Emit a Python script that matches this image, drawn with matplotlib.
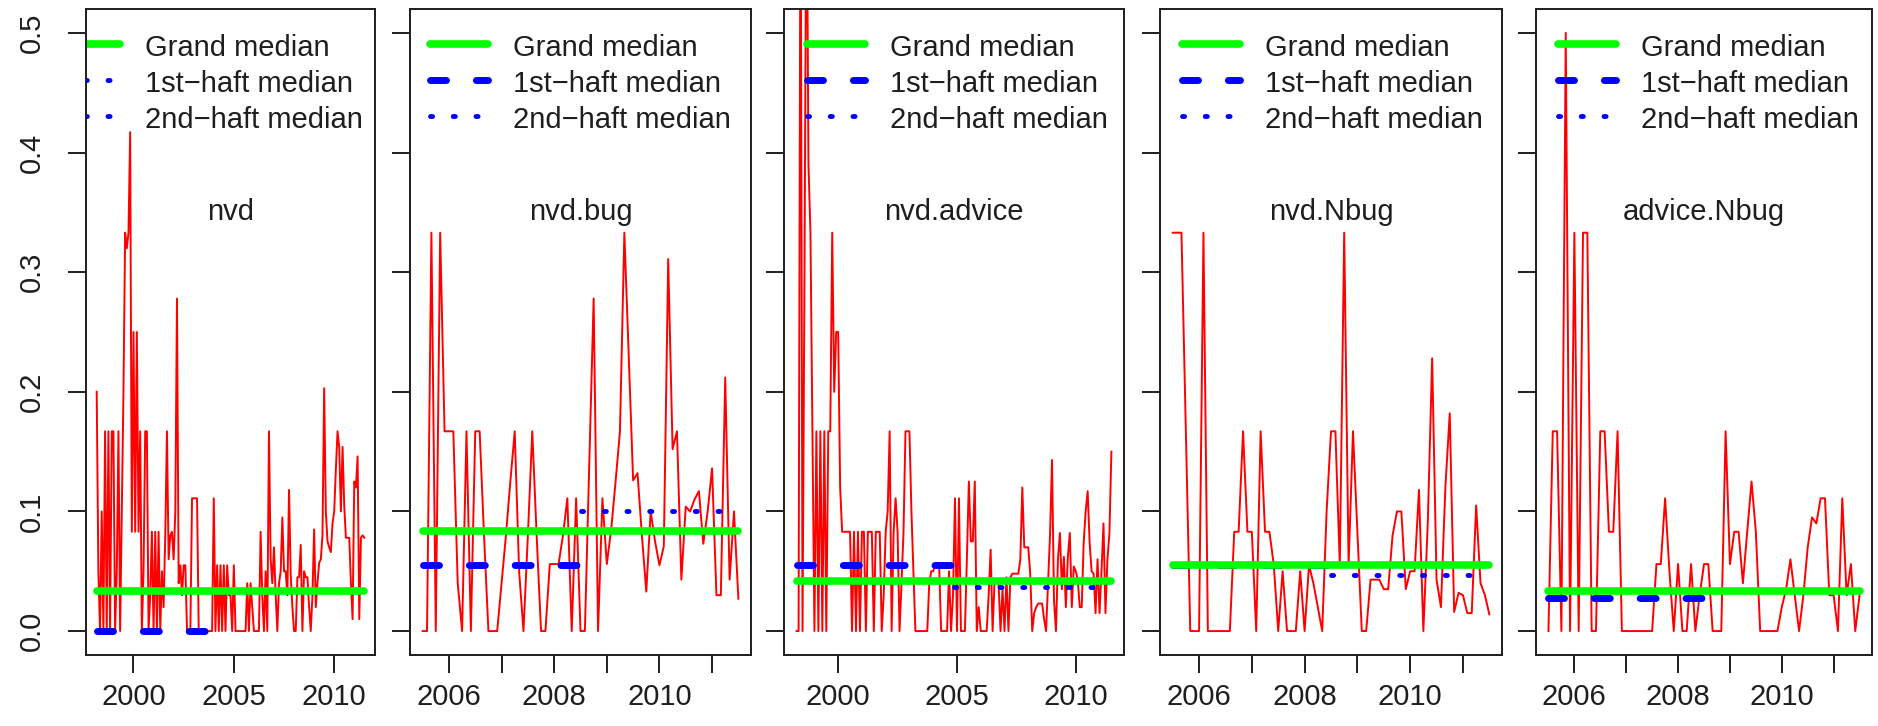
import numpy as np
import matplotlib
matplotlib.use('Agg')
import matplotlib.pyplot as plt

plt.rcParams['font.family'] = ['Liberation Sans', 'DejaVu Sans']
plt.rcParams['font.size'] = 21

# monthly ratios, one list per source pair
nvd = [.2, .05, 0, .1, 0, .167, 0, .167, 0, .167,
       .167, 0, .05, .167, 0, .1, .2, .333, .32, .333,
       .417, .083, .25, .083, .25, .083, .167, 0, .05, .167,
       .167, 0, .03, .083, 0, .083, 0, .083, 0, .05,
       .02, .08, .167, .06, .08, .083, .06, .1, .278, .04,
       .055, .03, .055, .055, 0, 0, 0, .111, .111, .111,
       .111, 0, 0, 0, 0, 0, 0, 0, 0, 0,
       .111, 0, .055, 0, .055, 0, .055, 0, .055, .03,
       .03, 0, .055, 0, 0, 0, 0, 0, 0, 0,
       .04, 0, .04, .02, 0, 0, 0, 0, .083, .03,
       0, .05, 0, .167, .06, .04, .07, .03, 0, .04,
       .05, .095, .05, .05, .03, .118, .047, .02, 0, 0,
       .045, .045, .072, 0, .05, .045, .045, .02, 0, .03,
       .085, .02, .04, .057, .06, .08, .203, .1, .075, .07,
       .066, .09, .1, .135, .167, .154, .1, .154, .105, .078,
       .078, .078, .04, .01, .125, .12, .146, .01, .078, .08,
       .078]

nvd_bug = [0, 0, .333, 0, .333, .167, .167, .167, .04, 0,
           .167, 0, .167, .167, .08, 0, 0, 0, .04, .08,
           .125, .167, .05, 0, .08, .167, .08, 0, 0, .056,
           .056, .056, .08, .111, 0, .111, 0, 0, .14, .278,
           0, .111, .056, .085, .125, .167, .333, .23, .126, .132,
           .08, .033, .1, .075, .055, .071, .311, .152, .167, .043,
           .104, .1, .11, .117, .073, .1, .136, .03, .03, .212,
           .043, .1, .027]

nvd_advice = [0, 0, .667, 0, .3, .667, .39, .333, .167, 0,
              .167, 0, .167, 0, .167, 0, .167, .167, .333, .2,
              .25, .25, .12, .083, .083, .083, .083, .083, 0, .083,
              0, .083, 0, .083, .083, 0, .083, .083, .083, 0,
              .083, .083, .083, 0, .03, .083, .1, .167, 0, .083,
              .111, .083, 0, .04, .083, .167, .167, .167, .1, .05,
              0, 0, 0, 0, 0, 0, 0, .04, .05, .05,
              .055, .056, .055, 0, 0, 0, 0, .05, 0, .03,
              .111, 0, .111, 0, 0, 0, .06, .125, .075, .075,
              .125, 0, .02, 0, 0, 0, 0, .03, .068, 0,
              .043, .04, .04, 0, .035, 0, .045, 0, .045, .048,
              .048, .048, .048, .06, .12, .07, .07, .07, .048, 0,
              .015, .02, .023, .023, .023, .01, 0, .04, .08, .143,
              .026, 0, .06, .082, .035, .062, .02, .062, .082, .02,
              .054, .05, .043, .02, .02, .074, .1, .117, .074, .05,
              .048, .015, .06, .015, .05, .09, .015, .06, .082, .15]

nvd_nbug = [.333, .333, .333, .167, 0, 0, 0, .333, 0, 0,
            0, 0, 0, 0, .083, .083, .167, .083, .083, 0,
            .167, .083, .083, .055, 0, .05, 0, 0, 0, .05,
            0, .055, .04, .02, 0, .1, .167, .167, .055, .333,
            .055, .167, .083, 0, 0, .043, .043, .043, .035, .035,
            .08, .1, .1, .035, .05, .05, .118, 0, .09, .228,
            .043, .02, .12, .182, .016, .032, .03, .015, .015, .105,
            .04, .03, .014]

advice_nbug = [0, .167, .167, 0, .5, 0, .333, 0, .333, .333,
               0, 0, .167, .167, .083, .083, .167, 0, 0, 0,
               0, 0, 0, 0, 0, .056, .056, .111, .05, 0,
               .056, 0, 0, .056, 0, .03, .056, .056, 0, 0,
               0, .167, .056, .083, .083, .04, .083, .125, .083, 0,
               0, 0, 0, 0, .02, .035, .06, .03, 0, .03,
               .07, .095, .09, .111, .111, .03, .03, 0, .111, .03,
               .056, 0, .03]

series_names = ['nvd', 'nvd.bug', 'nvd.advice', 'nvd.Nbug', 'advice.Nbug']
series_values = [nvd, nvd_bug, nvd_advice, nvd_nbug, advice_nbug]
series_start = [1998 + 2 / 12, 2005.5, 1998.25, 2005.5, 2005.5]  # first month

grand_median = [1 / 30, 1 / 12, 1 / 24, 1 / 18, 1 / 30]
first_half_median = [0, 1 / 18, 1 / 18, 1 / 18, 1 / 36]
second_half_median = [1 / 30, 0.1, 0.037, 0.0465, 1 / 30]

long_years = [2000, 2005, 2010]
short_years = [2006, 2007, 2008, 2009, 2010, 2011]
year_ticks = [long_years, short_years, long_years, short_years, short_years]
year_labels = [['2000', '2005', '2010'],
               ['2006', '', '2008', '', '2010', ''],
               ['2000', '2005', '2010'],
               ['2006', '', '2008', '', '2010', ''],
               ['2006', '', '2008', '', '2010', '']]
y_ticks = [0, 0.1, 0.2, 0.3, 0.4, 0.5]
y_labels = ['0.0', '0.1', '0.2', '0.3', '0.4', '0.5']
legend_labels = ['Grand median', '1st\u2212haft median', '2nd\u2212haft median']

# layout in pixels on the 1878 x 726 canvas
W, H = 1878, 726
box_left = [86, 410, 784, 1160, 1536]
box_width = [289, 341, 340, 342, 336]
box_top, box_bottom = 9, 655
key_left = [-24, 20, 23, 22, 22]
key_rows = [44, 80, 116]
ink = '#1e1e1e'

solid = dict(color='#00FF00', lw=5.5, solid_capstyle='round')
dashed = dict(color='#0000FF', lw=5, ls=(0, (2.3, 4.3)), dash_capstyle='round')
dotted = dict(color='#0000FF', lw=3.5, ls=(0, (0.43, 4.25)), dash_capstyle='round')

fig = plt.figure(figsize=(W / 100, H / 100), dpi=100)
box_h = box_bottom - box_top

for k in range(5):
    ax = fig.add_axes([box_left[k] / W, 1 - box_bottom / H,
                       box_width[k] / W, box_h / H])
    vals = np.array(series_values[k])
    x = series_start[k] + np.arange(len(vals)) / 12
    mid = (x[0] + x[-1]) / 2

    ax.plot(x, vals, color='red', lw=1.4)
    ax.plot([x[0], mid], [first_half_median[k]] * 2, **dashed)
    ax.plot([mid, x[-1]], [second_half_median[k]] * 2, **dotted)
    ax.plot([x[0], x[-1]], [grand_median[k]] * 2, **solid)

    ax.text(mid, 0.35, series_names[k], ha='center', va='center', color=ink)

    # legend keys, first panel uses dotted keys for both halves
    styles = [solid, dotted, dotted] if k == 0 else [solid, dashed, dotted]
    for row, style, label in zip(key_rows, styles, legend_labels):
        fy = (box_bottom - row) / box_h
        x0 = key_left[k] / box_width[k]
        x1 = (key_left[k] + 58) / box_width[k]
        ax.plot([x0, x1], [fy, fy], transform=ax.transAxes, clip_on=True, **style)
        ax.text((key_left[k] + 83) / box_width[k], fy - 12 / box_h, label,
                transform=ax.transAxes, ha='left', va='baseline', color=ink)

    span = x[-1] - x[0]
    ax.set_xlim(x[0] - 0.04 * span, x[-1] + 0.04 * span)
    ax.set_ylim(-0.02, 0.52)
    ax.set_xticks(year_ticks[k])
    ax.set_xticklabels(year_labels[k])
    ax.set_yticks(y_ticks)
    if k == 0:
        ax.set_yticklabels(y_labels, rotation=90, va='center')
    else:
        ax.set_yticklabels([])

    ax.tick_params(length=13, width=1.4, color=ink, labelcolor=ink)
    ax.tick_params(axis='x', pad=7.5)
    ax.tick_params(axis='y', pad=16)
    for s in ax.spines.values():
        s.set_linewidth(1.4)
        s.set_color(ink)

fig.savefig('out.png', dpi=100)
